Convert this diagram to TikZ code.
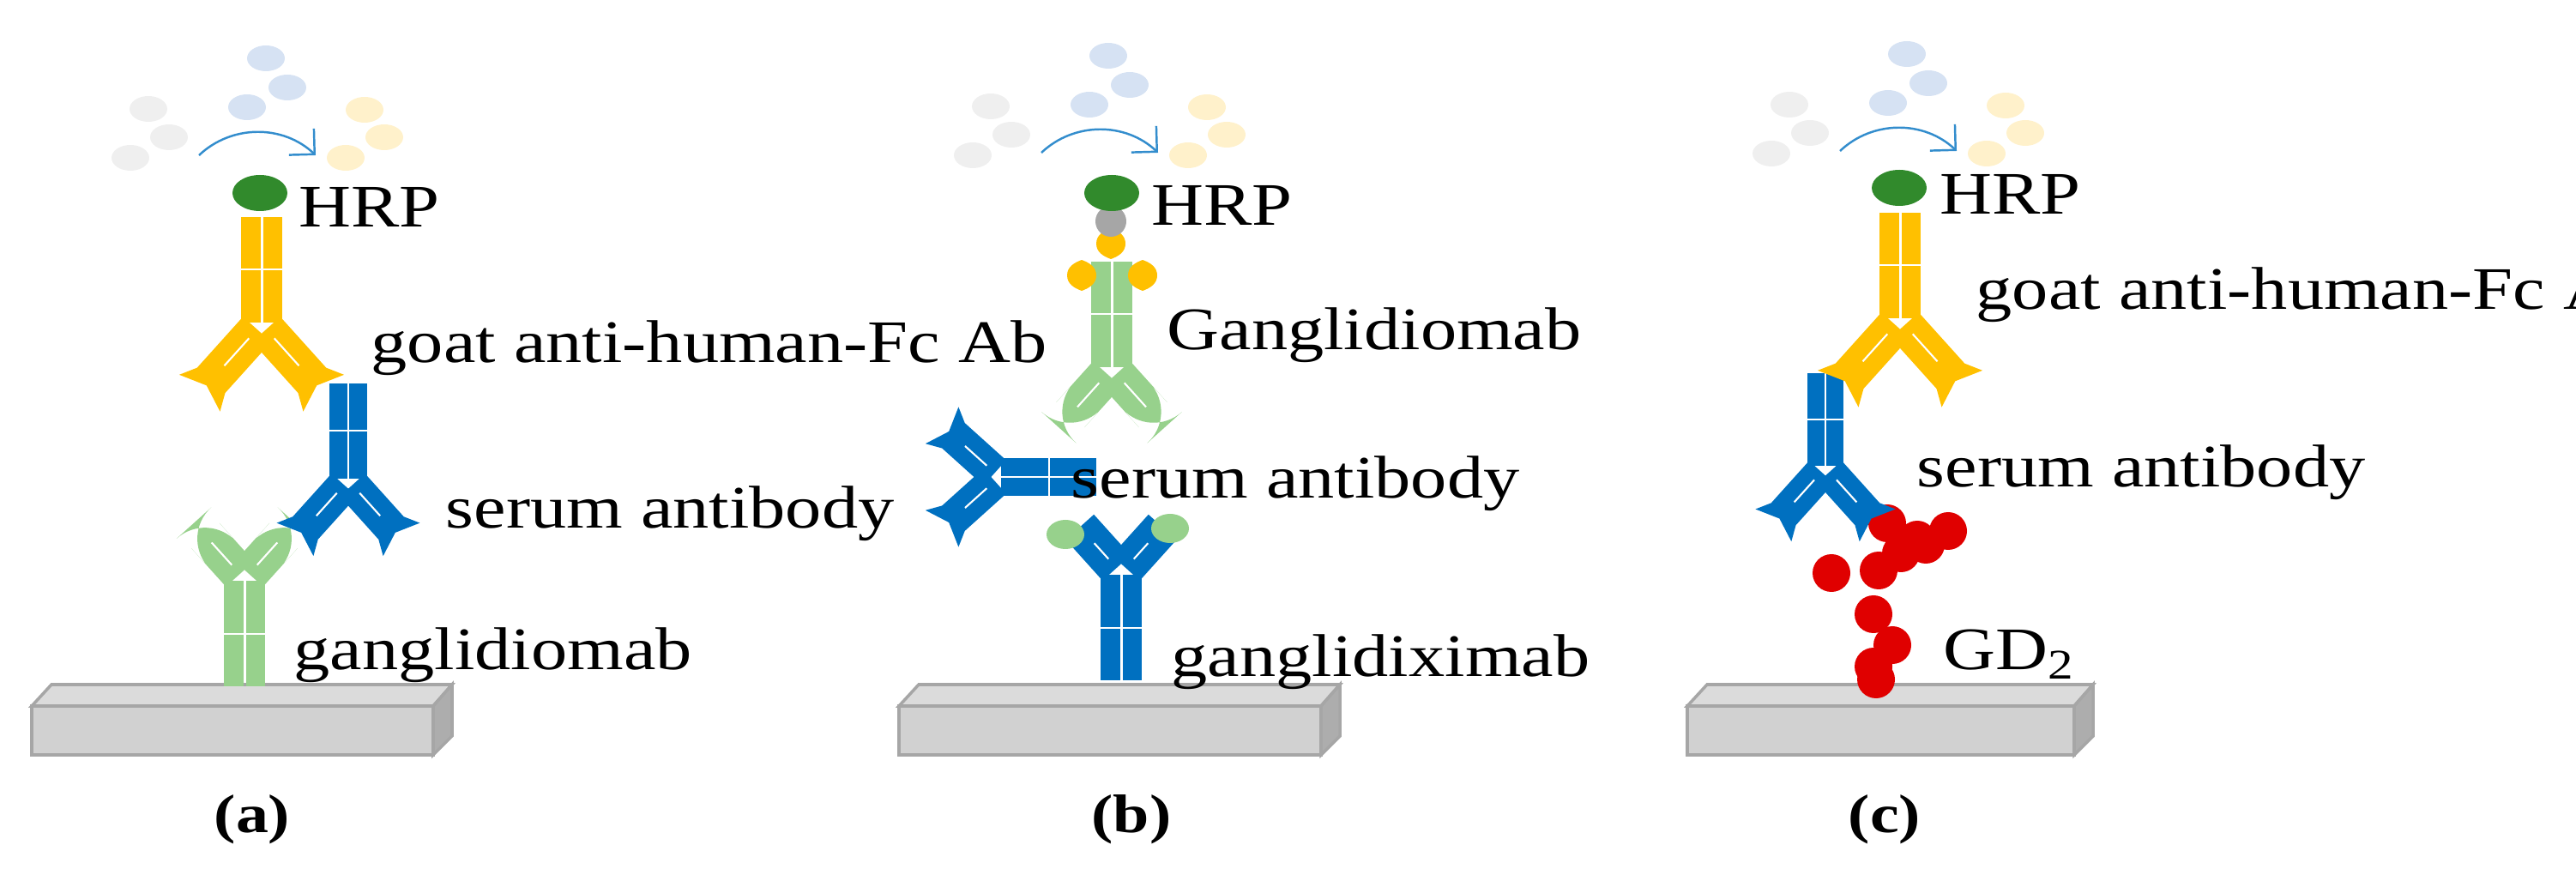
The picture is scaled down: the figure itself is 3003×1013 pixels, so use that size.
\documentclass[tikz,border=0pt]{standalone}
\usepackage{fontspec}
\usetikzlibrary{arrows.meta}
\setmainfont{Liberation Serif}[FakeStretch=1.2]
\begin{document}
\definecolor{ygold}{HTML}{FFC000}
\definecolor{abblue}{HTML}{0070C0}
\definecolor{abgreen}{HTML}{97D18C}
\definecolor{hrp}{HTML}{318A2C}
\definecolor{dgray}{HTML}{EFEFEF}
\definecolor{dblue}{HTML}{D6E2F3}
\definecolor{dyel}{HTML}{FFF1CB}
\definecolor{gdred}{HTML}{E00000}
\newcommand\abarm[3]{% color, tip, length
  \ifcase#2\relax
    \fill[#1] (-22,8)--(-22,#3-12)--(-32,#3+8)--(0,#3-4)--(32,#3+8)--(22,#3-12)--(22,8)--cycle;
  \or
    \fill[#1] (-22,8)--(-22,#3-20) [rounded corners=14pt]--(-22,#3)--(22,#3)[sharp corners]--(22,#3-20)--(22,8)--cycle;
  \or
    \fill[#1] (-22,8) rectangle (22,#3);
  \fi
  \draw[white,line width=0.6pt] (0,22)--(0,#3*0.65);
}
\newcommand\ABody[6]{% pos, rot, scale, color, tip, armlength
  \begin{scope}[shift={(#1)},rotate=#2,scale=#3]
    \fill[#4] (-24,-125) rectangle (-1.5,-2);
    \fill[#4] (1.5,-125) rectangle (24,-2);
    \draw[white,line width=0.6pt] (-24,-64)--(24,-64);
    \begin{scope}[rotate=42]\abarm{#4}{#5}{#6}\end{scope}
    \begin{scope}[rotate=-42]\abarm{#4}{#5}{#6}\end{scope}
  \end{scope}}
\newcommand\Slab[3]{% x0, x1 (front right), name
  \fill[fill=black!18,draw=black!35,line width=1pt] (#1,823) rectangle (#2,880);
  \fill[fill=black!14,draw=black!35,line width=1pt] (#1,823)--(#1+23,798)--(#2+22,798)--(#2,823)--cycle;
  \fill[fill=black!32,draw=black!35,line width=1pt] (#2,823)--(#2+22,798)--(#2+22,858)--(#2,880)--cycle;
  \coordinate (#3) at (#1,850);}
\newcommand\Dots[2]{%
  \begin{scope}[shift={(#1,#2)}]
    \foreach \p in {(173,127),(197,160),(152,184)} \fill[dgray] \p ellipse (22 and 15);
    \foreach \p in {(310,68),(335,102),(288,125)} \fill[dblue] \p ellipse (22 and 15);
    \foreach \p in {(425,128),(448,160),(403,184)} \fill[dyel] \p ellipse (22 and 15);
    \draw[abblue!80,line width=0.7pt,-{Straight Barb[length=6pt]}] (232,181) .. controls (270,145) and (330,145) .. (368,181);
  \end{scope}}
\begin{tikzpicture}[x=0.01cm,y=-0.01cm,
  lab/.style={anchor=base west,inner sep=0pt,font=\fontsize{20}{24}\selectfont},
  panelcap/.style={anchor=center,inner sep=0pt,font=\fontsize{18}{22}\selectfont\bfseries}]
\useasboundingbox (0,0) rectangle (3003,1013);
\Slab{37}{505}{sa}
\Slab{1048}{1540}{sb}
\Slab{1967}{2418}{sc}
\Dots{0}{0}
\Dots{982}{-3}
\Dots{1913}{-5}
% ---------- panel a
\ABody{285,675}{180}{1}{abgreen}{1}{88}
\ABody{406,560}{0}{0.9}{abblue}{0}{95}
\ABody{305,378}{0}{1}{ygold}{0}{100}
\fill[hrp] (303,225) ellipse (32 and 21);
\node[lab] (hrpa) at (348,265) {HRP};
\node[lab] (goata) at (432,423) {goat anti-human-Fc Ab};
\node[lab] (sera) at (519,616) {serum antibody};
\node[lab] (ganga) at (342,781) {ganglidiomab};
\node[panelcap] (capa) at (294,955) {(a)};
% ---------- panel b
\ABody{1307,668}{180}{1}{abblue}{2}{72}
\fill[abgreen] (1242,623) ellipse (22 and 17);
\fill[abgreen] (1364,616) ellipse (22 and 17);
\ABody{1165,556}{-90}{0.9}{abblue}{0}{92}
\ABody{1296,430}{0}{1}{abgreen}{1}{92}
\foreach \p in {(1295,284),(1261,321),(1332,321)}
  \fill[ygold] \p ++(0,-18) to[out=-20,in=90] ++(17,18) to[out=-90,in=20] ++(-17,18) to[out=160,in=-90] ++(-17,-18) to[out=90,in=200] cycle;
\fill[black!35] (1295,258) circle (18);
\fill[hrp] (1296,225) ellipse (32 and 21);
\node[lab] (hrpb) at (1342,263) {HRP};
\node[lab] (gangb) at (1360,408) {Ganglidiomab};
\node[lab] (serb) at (1248,581) {serum antibody};
\node[lab] (gangxb) at (1365,788) {ganglidiximab};
\node[panelcap] (capb) at (1319,955) {(b)};
% ---------- panel c
\foreach \p in {(2187,792),(2184,777),(2206,752),(2184,716),(2135,668),(2190,665),(2216,645),(2245,635),(2271,619),(2235,629),(2200,610)}
  \fill[gdred] \p circle (22);
\ABody{2128,545}{0}{0.88}{abblue}{0}{95}
\ABody{2215,373}{0}{1}{ygold}{0}{100}
\fill[hrp] (2214,219) ellipse (32 and 21);
\node[lab] (hrpc) at (2261,250) {HRP};
\node[lab] (goatc) at (2303,361) {goat anti-human-Fc Ab};
\node[lab] (serc) at (2234,568) {serum antibody};
\node[lab] (gdc) at (2265,781) {GD\textsubscript{2}};
\node[panelcap] (capc) at (2197,955) {(c)};
\end{tikzpicture}
\end{document}
